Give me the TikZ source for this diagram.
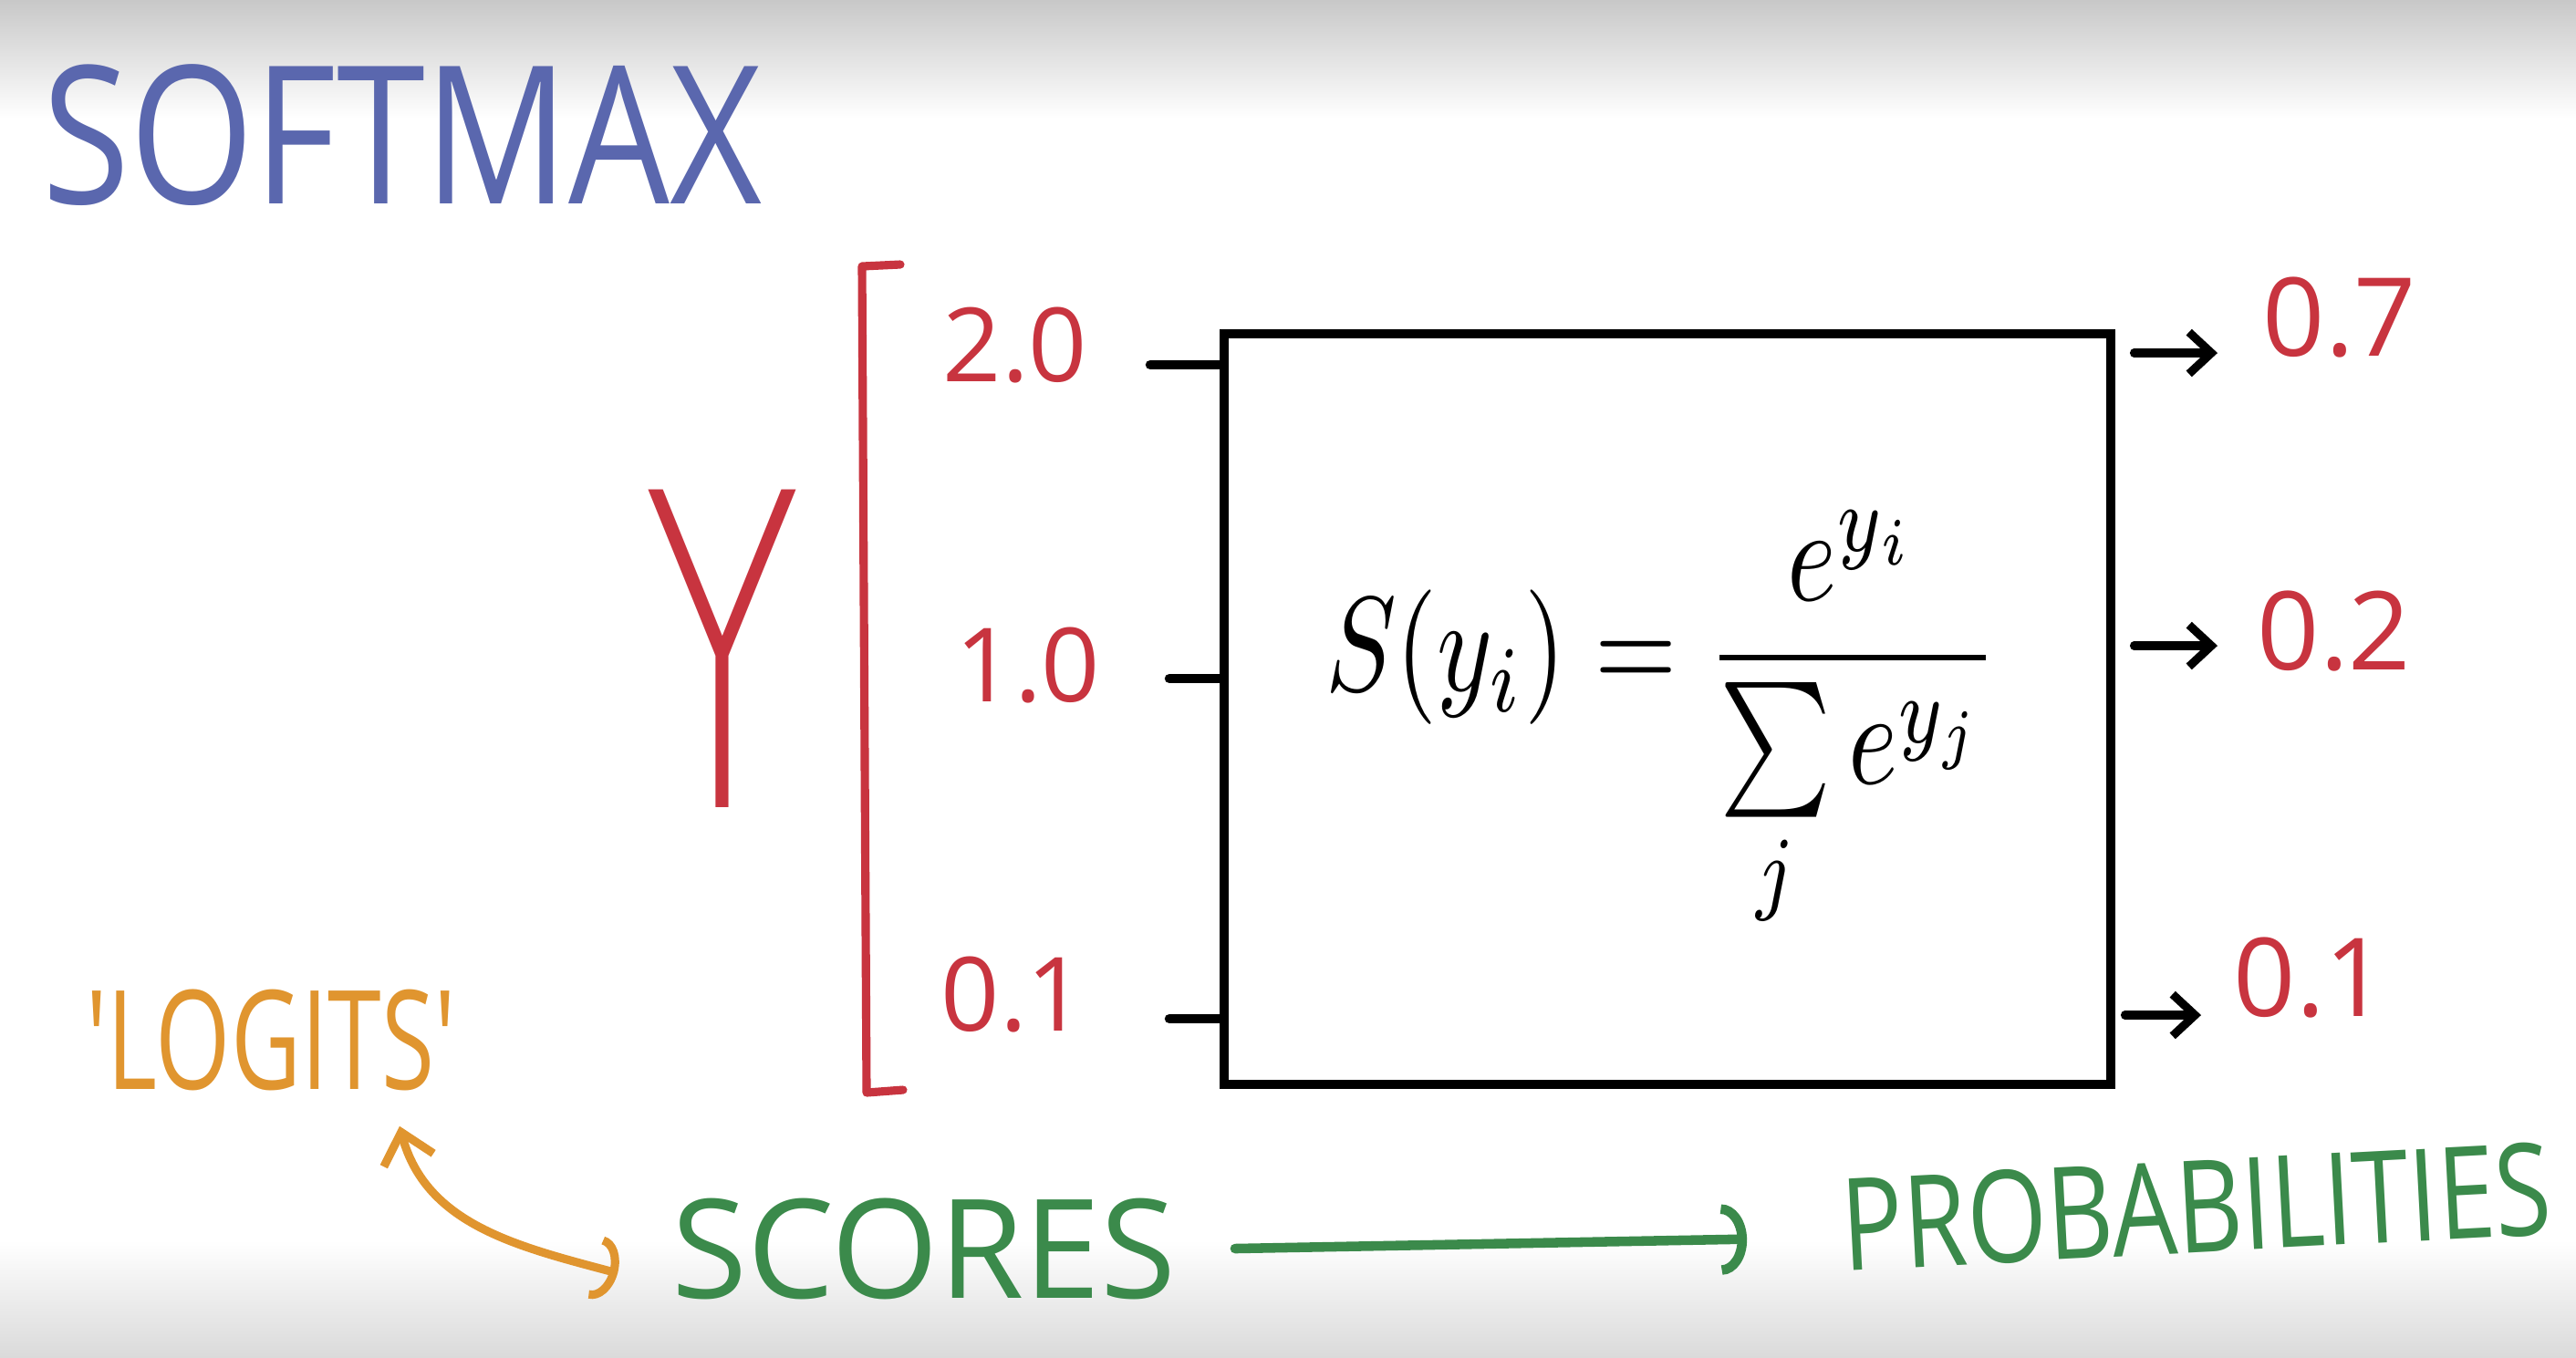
\documentclass[tikz,border=0pt]{standalone}
\usepackage{fontspec}
\usepackage{graphicx}
\usetikzlibrary{arrows.meta, positioning, calc}
\setmainfont{Open Sans}
\newfontfamily\handfont{Open Sans}
\newfontfamily\thinfont{DejaVuSans-ExtraLight.ttf}
\definecolor{inkblue}{HTML}{5A67AE}
\definecolor{inkred}{HTML}{C8343F}
\definecolor{inkorange}{HTML}{E0952F}
\definecolor{inkgreen}{HTML}{3B8A4B}
\definecolor{bgtop}{HTML}{C8C8C8}
\definecolor{bgbot}{HTML}{DADADA}
\newcommand{\squeeze}[2]{\scalebox{#1}[1]{#2}}
\newcommand{\handsize}[1]{\handfont\fontsize{#1}{#1}\selectfont}

\begin{document}
\begin{tikzpicture}[x=1cm, y=-1cm,
  hand/.style={inner sep=1pt},
  inlbl/.style={hand, text=inkred, font={\handsize{32}}},
  outlbl/.style={hand, text=inkred, font={\handsize{34}}},
  tick/.style={line width=3pt, line cap=round},
  outarrow/.style={line width=2.6pt, line cap=round, -{Straight Barb[length=7pt,width=13pt]}},
  softbox/.style={draw, line width=3.1pt, minimum width=9.72cm, minimum height=8.23cm, inner sep=0pt},
  orarrow/.style={inkorange, line width=2.6pt, line cap=round, {Straight Barb[length=9pt,width=16pt]}-{Arc Barb[length=7pt,width=20pt]}},
  grarrow/.style={inkgreen, line width=3pt, line cap=round, -{Arc Barb[length=8pt,width=22pt]}}
]
% Background
\useasboundingbox (0,0) rectangle (28.24,14.88);
\fill[white] (0,0) rectangle (28.24,14.88);
\shade[top color=bgtop, bottom color=white] (0,0) rectangle (28.24,1.3);
\shade[top color=white, bottom color=bgbot] (0,13.6) rectangle (28.24,14.88);
% Title
\node[hand, text=inkblue, font={\handsize{60}}] (title) at (4.41,1.48) {\squeeze{0.83}{SOFTMAX}};
% Scores y
\node[hand, text=inkred, font={\thinfont\fontsize{136}{136}\selectfont}] (ylbl) at (7.92,7.11) {\squeeze{0.6}{Y}};
\draw[inkred, line width=2.6pt, line cap=round, line join=round] (9.87,2.90) -- (9.45,2.92) -- (9.50,11.98) -- (9.90,11.95);
\node[inlbl] (in1) at (11.13,3.78) {2.0};
\node[inlbl] (in2) at (11.27,7.29) {1.0};
\node[inlbl] (in3) at (11.11,10.90) {0.1};
% Softmax box
\node[softbox] (sm) at (18.28,7.775) {};
\node[font=\fontsize{10}{12}\selectfont] (fml) at (18.22,7.92) {\scalebox{3.3}[4.2]{$\displaystyle S(y_i)=\frac{e^{y_i}}{\sum\limits_j e^{y_j}}$}};
\coordinate (t1) at (12.61,4.00);
\coordinate (t2) at (12.82,7.44);
\coordinate (t3) at (12.82,11.17);
\draw[tick] (t1) -- (t1 -| sm.west);
\draw[tick] (t2) -- (t2 -| sm.west);
\draw[tick] (t3) -- (t3 -| sm.west);
% Probabilities
\coordinate (a1) at (24.31,3.87);
\coordinate (a2) at (24.31,7.08);
\coordinate (a3) at (24.13,11.13);
\draw[outarrow, shorten <=0.2cm] (sm.east |- a1) -- (a1);
\draw[outarrow, shorten <=0.2cm] (sm.east |- a2) -- (a2);
\draw[outarrow, shorten <=0.1cm] (sm.east |- a3) -- (a3);
\node[outlbl] (o1) at (25.65,3.48) {0.7};
\node[outlbl] (o2) at (25.59,6.92) {0.2};
\node[outlbl] (o3) at (25.33,10.72) {0.1};
% Bottom line
\node[hand, text=inkorange, font={\handsize{43}}] (logits) at (2.97,11.40) {\squeeze{0.7}{'LOGITS'}};
\node[hand, text=inkgreen, font={\handsize{43}}] (scores) at (10.13,13.69) {SCORES};
\node[hand, text=inkgreen, font={\handsize{40}}, rotate=3] (prob) at (24.08,13.23) {\squeeze{0.8}{PROBABILITIES}};
\draw[orarrow] ([xshift=1.41cm,yshift=-0.35cm]logits.south) to[out=-75,in=165] ([xshift=-0.55cm,yshift=-0.27cm]scores.west);
\draw[grarrow] ([xshift=0.6cm]scores.east) -- ([xshift=-1.0cm,yshift=-0.15cm]prob.west);
\end{tikzpicture}
\end{document}
